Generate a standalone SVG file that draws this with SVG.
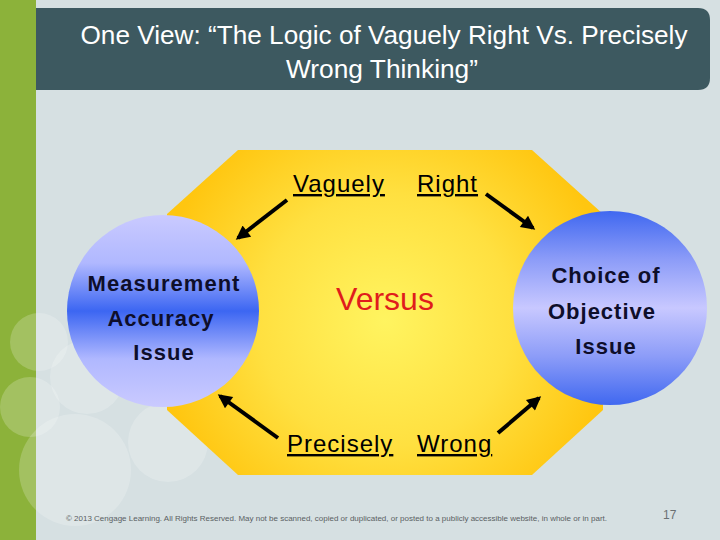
<svg xmlns="http://www.w3.org/2000/svg" width="720" height="540" viewBox="0 0 720 540">
<style>
.title{font-family:"Liberation Sans",Arial,sans-serif;font-size:25px;fill:#ffffff}
.lbl{font-family:"Liberation Sans",Arial,sans-serif;font-size:24px;fill:#000;text-decoration:underline;letter-spacing:1px}
.ctext{font-family:"Liberation Sans",Arial,sans-serif;font-size:22px;font-weight:bold;fill:#0e0e2a;letter-spacing:1px;text-anchor:middle}
.arrow{stroke:#000;stroke-width:4;fill:none;marker-end:url(#ah)}
.deco{fill:#ffffff;fill-opacity:0.2}
</style>
<defs>
<marker id="ah" viewBox="0 0 10 10" refX="8" refY="5" markerWidth="4" markerHeight="3.5" orient="auto" markerUnits="strokeWidth">
<path d="M0,0 L10,5 L0,10 Z" fill="#000"/>
</marker>
<radialGradient id="yel" cx="385" cy="320" r="230" gradientUnits="userSpaceOnUse">
<stop offset="0" stop-color="#fff460"/>
<stop offset="0.55" stop-color="#ffe040"/>
<stop offset="1" stop-color="#ffc610"/>
</radialGradient>
<linearGradient id="lg1" x1="0" y1="0" x2="0" y2="1">
<stop offset="0" stop-color="#cacaff"/>
<stop offset="0.25" stop-color="#b0b8ff"/>
<stop offset="0.5" stop-color="#3c66f2"/>
<stop offset="0.75" stop-color="#b0b8ff"/>
<stop offset="1" stop-color="#cacaff"/>
</linearGradient>
<linearGradient id="lg2" x1="0" y1="0" x2="0" y2="1">
<stop offset="0" stop-color="#4068f0"/>
<stop offset="0.25" stop-color="#8c9cf8"/>
<stop offset="0.5" stop-color="#c8c8ff"/>
<stop offset="0.75" stop-color="#8c9cf8"/>
<stop offset="1" stop-color="#4068f0"/>
</linearGradient>
</defs>
<rect x="0" y="0" width="720" height="540" fill="#d6e0e2"/>
<rect x="0" y="0" width="36" height="540" fill="#8cb23a"/>
<g id="decor">
<circle class="deco" cx="39" cy="342" r="29"/>
<circle class="deco" cx="30" cy="407" r="30"/>
<circle class="deco" cx="87" cy="377" r="37"/>
<circle class="deco" cx="75" cy="470" r="56"/>
<circle class="deco" cx="168" cy="442" r="40"/>
</g>
<g id="title">
<path d="M36,8 H698 Q710,8 710,20 V78 Q710,90 698,90 H36 Z" fill="#3d5960"/>
<text class="title" x="384" y="44" text-anchor="middle" textLength="607" lengthAdjust="spacingAndGlyphs">One View: “The Logic of Vaguely Right Vs. Precisely</text>
<text class="title" x="382" y="78" text-anchor="middle" textLength="192" lengthAdjust="spacingAndGlyphs">Wrong Thinking”</text>
</g>
<g id="octagon">
<polygon points="238,150 532,150 603,214 603,410 532,475 238,475 167,410 167,214" fill="url(#yel)"/>
<text x="385" y="310" text-anchor="middle" font-family="Liberation Sans, Arial, sans-serif" font-size="32" fill="#e01c1c">Versus</text>
<text class="lbl" x="293" y="192">Vaguely</text>
<text class="lbl" x="417" y="192">Right</text>
<text class="lbl" x="287" y="452">Precisely</text>
<text class="lbl" x="417" y="452">Wrong</text>
</g>
<g id="connectors">
<line class="arrow" x1="287" y1="200" x2="238" y2="238"/>
<line class="arrow" x1="486" y1="194" x2="533" y2="228"/>
<line class="arrow" x1="278" y1="438" x2="220" y2="396"/>
<line class="arrow" x1="498" y1="433" x2="539" y2="398"/>
</g>
<g id="measurement">
<circle cx="163" cy="311" r="96" fill="url(#lg1)"/>
<text class="ctext" x="164" y="291">Measurement</text>
<text class="ctext" x="161" y="326">Accuracy</text>
<text class="ctext" x="164" y="360">Issue</text>
</g>
<g id="choice">
<circle cx="610" cy="308" r="97" fill="url(#lg2)"/>
<text class="ctext" x="606" y="283">Choice of</text>
<text class="ctext" x="602" y="319">Objective</text>
<text class="ctext" x="606" y="354">Issue</text>
</g>
<g id="footer">
<text x="66" y="521" font-family="Liberation Sans, Arial, sans-serif" font-size="7.5" fill="#5a6062" textLength="541" lengthAdjust="spacingAndGlyphs">© 2013 Cengage Learning. All Rights Reserved. May not be scanned, copied or duplicated, or posted to a publicly accessible website, in whole or in part.</text>
<text x="663" y="519" font-family="Liberation Sans, Arial, sans-serif" font-size="12" fill="#6a7072">17</text>
</g>
</svg>
